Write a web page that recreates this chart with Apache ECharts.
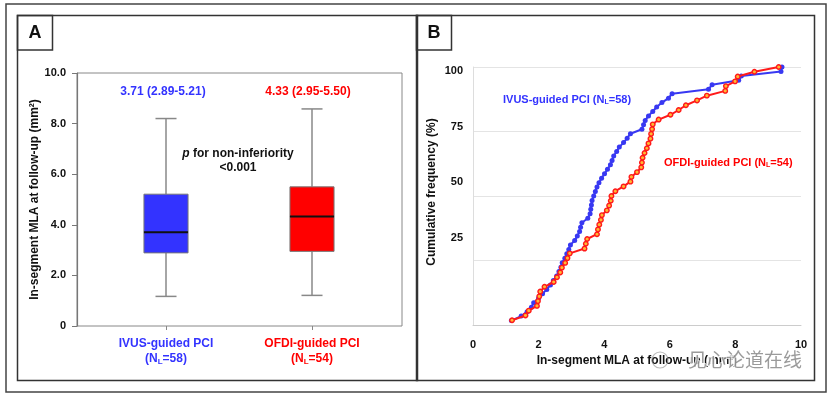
<!DOCTYPE html>
<html><head><meta charset="utf-8">
<script src="https://cdn.jsdelivr.net/npm/echarts@6/dist/echarts.min.js"></script>
<style>html,body{margin:0;padding:0;background:#fff}#c{width:832px;height:394px}</style>
</head><body><div id="c"></div>
<script>
// ---------- data ----------
const groups = ['IVUS-guided PCI', 'OFDI-guided PCI'];
const groupN = [58, 54];
const groupColors = ['#3333FF', '#FF0000'];
// [min, Q1, median, Q3, max]
const boxIVUS = [1.17, 2.89, 3.71, 5.21, 8.20];
const boxOFDI = [1.21, 2.95, 4.33, 5.50, 8.58];
const medianLabels = ['3.71 (2.89-5.21)', '4.33 (2.95-5.50)'];
const pLabel = ['p for non-inferiority', '<0.001'];
// sorted in-segment MLA values (mm2)
const ivusMLA = [1.17, 1.47, 1.65, 1.78, 1.85, 2.00, 2.12, 2.25, 2.36, 2.45,
  2.55, 2.62, 2.68, 2.72, 2.80, 2.86, 2.92, 2.97, 3.10, 3.18,
  3.25, 3.28, 3.32, 3.50, 3.57, 3.59, 3.61, 3.63, 3.68, 3.73,
  3.78, 3.84, 3.92, 4.01, 4.10, 4.19, 4.24, 4.29, 4.38, 4.46,
  4.59, 4.70, 4.80, 5.15, 5.20, 5.25, 5.35, 5.48, 5.60, 5.76,
  5.96, 6.07, 7.18, 7.29, 8.10, 8.18, 9.39, 9.42];
const ofdiMLA = [1.19, 1.60, 1.70, 1.95, 1.98, 2.02, 2.05, 2.18, 2.46, 2.56,
  2.66, 2.71, 2.81, 2.88, 2.95, 3.40, 3.44, 3.48, 3.78, 3.81,
  3.85, 3.90, 3.93, 4.08, 4.15, 4.20, 4.22, 4.34, 4.59, 4.80,
  4.83, 5.00, 5.13, 5.15, 5.17, 5.23, 5.30, 5.35, 5.41, 5.43,
  5.46, 5.48, 5.66, 6.02, 6.27, 6.49, 6.83, 7.13, 7.69, 7.71,
  7.99, 8.07, 8.58, 9.32];
const yTicksA = [0, 2, 4, 6, 8, 10];
const xTicksB = [0, 2, 4, 6, 8, 10];
const yTicksB = [25, 50, 75, 100];

const FONT = '"Liberation Sans", Arial, Helvetica, sans-serif';
const cumul = arr => arr.map((v, i) => [v, (i + 1) / arr.length * 100]);

const boxData = [[0].concat(boxIVUS), [1].concat(boxOFDI)];

const chart = echarts.init(document.getElementById('c'), null, {renderer: 'canvas'});

function subLabel(name, n, key) {
  return '{' + key + '|' + name + '}\n{' + key + '|(N}{' + key + 's|L}{' + key + '|=' + n + ')}';
}

const option = {
  animation: false,
  backgroundColor: '#fff',
  textStyle: {fontFamily: FONT},
  grid: [
    {left: 77, top: 73, width: 325, height: 253, show: true, borderColor: '#888', borderWidth: 1, containLabel: false},
    {left: 93, top: 73, width: 292, height: 253, containLabel: false},
    {left: 473, top: 67, width: 328, height: 258, containLabel: false},
    {left: 473, top: 71, width: 328, height: 222, containLabel: false}
  ],
  xAxis: [
    {gridIndex: 0, type: 'value', min: 0, max: 1, show: false},
    {gridIndex: 1, type: 'category', data: groups,
      axisLine: {show: false},
      axisTick: {show: true, alignWithLabel: true, length: 4, lineStyle: {color: '#888'}},
      axisLabel: {margin: 10, lineHeight: 15,
        formatter: (v, i) => subLabel(v, groupN[i], i === 0 ? 'b' : 'r'),
        rich: {
          b: {color: groupColors[0], fontWeight: 'bold', fontSize: 12, fontFamily: FONT, lineHeight: 15},
          bs: {color: groupColors[0], fontWeight: 'bold', fontSize: 8, fontFamily: FONT, padding: [6, 0, 0, 0]},
          r: {color: groupColors[1], fontWeight: 'bold', fontSize: 12, fontFamily: FONT, lineHeight: 15},
          rs: {color: groupColors[1], fontWeight: 'bold', fontSize: 8, fontFamily: FONT, padding: [6, 0, 0, 0]}
        }}},
    {gridIndex: 2, type: 'value', min: 0, max: 10, interval: 2,
      axisLine: {show: true, lineStyle: {color: '#ccc'}},
      axisTick: {show: false}, splitLine: {show: false},
      axisLabel: {color: '#111', fontWeight: 'bold', fontSize: 11, margin: 14, fontFamily: FONT},
      name: 'In-segment MLA at follow-up (mm²)', nameLocation: 'middle', nameGap: 28,
      nameTextStyle: {color: '#111', fontWeight: 'bold', fontSize: 12, fontFamily: FONT}},
    {gridIndex: 3, type: 'value', min: 0, max: 10, show: false}
  ],
  yAxis: [
    {gridIndex: 0, type: 'value', min: 0, max: 10, interval: 2,
      axisLine: {show: true, lineStyle: {color: '#777', width: 1.2}},
      axisTick: {show: true, length: 5, lineStyle: {color: '#777'}},
      splitLine: {show: false},
      axisLabel: {color: '#111', fontWeight: 'bold', fontSize: 11, margin: 11, fontFamily: FONT,
        formatter: v => v === 0 ? '0' : v.toFixed(1)},
      name: 'In-segment MLA at follow-up (mm²)', nameLocation: 'middle', nameGap: 36,
      nameTextStyle: {color: '#111', fontWeight: 'bold', fontSize: 12, fontFamily: FONT}},
    {gridIndex: 1, type: 'value', min: 0, max: 10, show: false},
    {gridIndex: 2, type: 'value', min: 0, max: 100, interval: 25,
      axisLine: {show: true, lineStyle: {color: '#ddd'}},
      axisTick: {show: false},
      splitLine: {show: true, lineStyle: {color: '#e4e4e4', width: 1}},
      axisLabel: {show: false}},
    {gridIndex: 3, type: 'value', min: 0, max: 100, interval: 25,
      axisLine: {show: false}, axisTick: {show: false}, splitLine: {show: false},
      axisLabel: {color: '#111', fontWeight: 'bold', fontSize: 11, margin: 10, fontFamily: FONT,
        formatter: v => yTicksB.indexOf(v) >= 0 ? String(v) : ''}}
  ],
  series: [
    {
      type: 'custom', xAxisIndex: 1, yAxisIndex: 1,
      data: boxData,
      encode: {x: 0, y: [1, 2, 3, 4, 5]},
      renderItem: function (params, api) {
        const cat = api.value(0);
        const pt = v => api.coord([cat, v]);
        const bw = api.size([1, 0])[0];
        const hw = bw * 0.151, cw = bw * 0.072;
        const pMin = pt(api.value(1)), pQ1 = pt(api.value(2)), pMed = pt(api.value(3)),
          pQ3 = pt(api.value(4)), pMax = pt(api.value(5));
        const x = pMed[0];
        const wStyle = {stroke: '#888', lineWidth: 1.5};
        return {
          type: 'group', children: [
            {type: 'line', shape: {x1: x, y1: pMax[1], x2: x, y2: pQ3[1]}, style: wStyle},
            {type: 'line', shape: {x1: x, y1: pQ1[1], x2: x, y2: pMin[1]}, style: wStyle},
            {type: 'line', shape: {x1: x - cw, y1: pMax[1], x2: x + cw, y2: pMax[1]}, style: wStyle},
            {type: 'line', shape: {x1: x - cw, y1: pMin[1], x2: x + cw, y2: pMin[1]}, style: wStyle},
            {type: 'rect', shape: {x: x - hw, y: pQ3[1], width: hw * 2, height: pQ1[1] - pQ3[1]},
              style: {fill: groupColors[cat], stroke: '#777', lineWidth: 1}},
            {type: 'line', shape: {x1: x - hw, y1: pMed[1], x2: x + hw, y2: pMed[1]},
              style: {stroke: '#111', lineWidth: 2}}
          ]
        };
      }
    },
    {
      type: 'line', xAxisIndex: 2, yAxisIndex: 2, data: cumul(ivusMLA),
      symbol: 'circle', symbolSize: 5, color: '#3838F2',
      lineStyle: {color: '#3838F2', width: 2},
      itemStyle: {color: '#3838F2'}, z: 3
    },
    {
      type: 'line', xAxisIndex: 2, yAxisIndex: 2, data: cumul(ofdiMLA),
      symbol: 'circle', symbolSize: 4.5, color: '#FF1A1A',
      lineStyle: {color: '#FF1A1A', width: 2},
      itemStyle: {color: '#FFB833', borderColor: '#FF1A1A', borderWidth: 1.4}, z: 4
    }
  ],
  graphic: [
    {type: 'rect', shape: {x: 6, y: 4, width: 820, height: 388}, style: {fill: 'none', stroke: '#444', lineWidth: 1.5}, z: 100},
    {type: 'rect', shape: {x: 17.5, y: 15.5, width: 400, height: 365}, style: {fill: 'none', stroke: '#333', lineWidth: 1.5}, z: 100},
    {type: 'rect', shape: {x: 416.5, y: 15.5, width: 398, height: 365}, style: {fill: 'none', stroke: '#333', lineWidth: 1.5}, z: 100},
    {type: 'rect', shape: {x: 17.5, y: 15.5, width: 35, height: 34.5}, style: {fill: 'none', stroke: '#333', lineWidth: 1.5}, z: 100},
    {type: 'rect', shape: {x: 416.5, y: 15.5, width: 35, height: 34.5}, style: {fill: 'none', stroke: '#333', lineWidth: 1.5}, z: 100},
    {type: 'text', x: 35, y: 33, style: {text: 'A', fill: '#111', font: 'bold 18px ' + FONT, align: 'center', verticalAlign: 'middle'}, z: 100},
    {type: 'text', x: 434, y: 33, style: {text: 'B', fill: '#111', font: 'bold 18px ' + FONT, align: 'center', verticalAlign: 'middle'}, z: 100},
    {type: 'text', x: 163, y: 92, style: {text: medianLabels[0], fill: groupColors[0], font: 'bold 12px ' + FONT, align: 'center', verticalAlign: 'middle'}, z: 100},
    {type: 'text', x: 308, y: 92, style: {text: medianLabels[1], fill: groupColors[1], font: 'bold 12px ' + FONT, align: 'center', verticalAlign: 'middle'}, z: 100},
    {type: 'text', x: 238, y: 154, style: {text: '{i|p}' + pLabel[0].slice(1), fill: '#111', font: 'bold 12px ' + FONT, align: 'center', verticalAlign: 'middle',
      rich: {i: {fontStyle: 'italic', fontWeight: 'bold', fontSize: 12, fontFamily: FONT, fill: '#111'}}}, z: 100},
    {type: 'text', x: 238, y: 168, style: {text: pLabel[1], fill: '#111', font: 'bold 12px ' + FONT, align: 'center', verticalAlign: 'middle'}, z: 100},
    {type: 'text', x: 432, y: 192, rotation: Math.PI / 2, style: {text: 'Cumulative frequency (%)', fill: '#111', font: 'bold 12px ' + FONT, align: 'center', verticalAlign: 'middle'}, z: 100},
    {type: 'text', x: 503, y: 100, style: {text: 'IVUS-guided PCI (N{s|L}=58)', fill: groupColors[0], font: 'bold 11px ' + FONT, align: 'left', verticalAlign: 'middle',
      rich: {s: {fontSize: 7, fontWeight: 'bold', fontFamily: FONT, fill: groupColors[0], padding: [5, 0, 0, 0]}}}, z: 100},
    {type: 'text', x: 664, y: 163, style: {text: 'OFDI-guided PCI (N{s|L}=54)', fill: groupColors[1], font: 'bold 11px ' + FONT, align: 'left', verticalAlign: 'middle',
      rich: {s: {fontSize: 7, fontWeight: 'bold', fontFamily: FONT, fill: groupColors[1], padding: [5, 0, 0, 0]}}}, z: 100},
    {type: 'text', x: 688, y: 360, style: {text: '见心论道在线', fill: 'rgba(120,120,120,0.75)', font: '19px "Noto Sans CJK SC", sans-serif', align: 'left', verticalAlign: 'middle', stroke: 'rgba(255,255,255,0.8)', lineWidth: 2}, z: 101},
    {type: 'circle', shape: {cx: 660, cy: 360, r: 8}, style: {fill: 'none', stroke: 'rgba(140,140,140,0.6)', lineWidth: 1.2}, z: 101}
  ]
};
chart.setOption(option);
</script>
</body></html>
